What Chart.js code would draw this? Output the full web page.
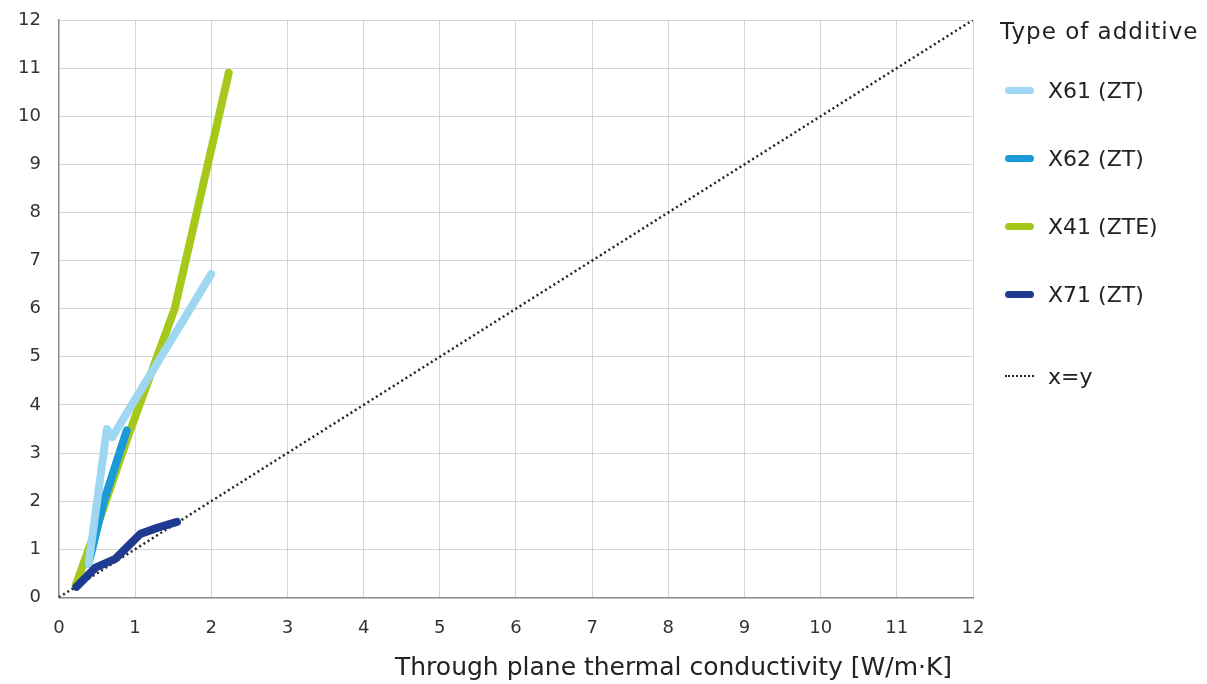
<!DOCTYPE html>
<html>
<head>
<meta charset="utf-8">
<script src="https://cdn.jsdelivr.net/npm/chart.js@4"></script>
<style>
  body { margin: 0; background: #fff; }
  #wrap { position: relative; width: 1207px; height: 684px; }
  #legend { position: absolute; left: 1000px; top: 18px; font-family: 'DejaVu Sans', sans-serif; color: #222; }
  #legend .title { font-size: 23px; letter-spacing: 1px; margin-bottom: 12px; }
  #legend .item { display: flex; align-items: center; height: 68px; font-size: 22px; }
  #legend .item.last { margin-top: 14px; }
  #legend .swatch { width: 29px; height: 7px; border-radius: 4px; margin: 0 14px 0 5px; }
  #legend .dots { width: 29px; border-top: 2px dotted #222; margin: 0 14px 0 5px; }
  #xtitle { position: absolute; left: 395px; top: 652px; font-family: 'DejaVu Sans', sans-serif; font-size: 25px; color: #222; white-space: nowrap; }
</style>
</head>
<body>
<div id="wrap">
  <canvas id="chart" width="1207" height="684"></canvas>
  <div id="legend"></div>
  <div id="xtitle">Through plane thermal conductivity [W/m·K]</div>
</div>
<script>
// series: [x, y] in W/m·K
const x61 = [[0.39, 0.7], [0.63, 3.5], [0.70, 3.33], [2.0, 6.72]];
const x62 = [[0.39, 0.7], [0.59, 2.0], [0.89, 3.47]];
const x41 = [[0.22, 0.25], [0.55, 1.7], [0.92, 3.4], [1.52, 6.0], [2.23, 10.9]];
const x71 = [[0.23, 0.22], [0.48, 0.62], [0.74, 0.8], [1.07, 1.32], [1.3, 1.45], [1.55, 1.57]];
const diag = [[0, 0], [12, 12]];

const seriesNames = ['X61 (ZT)', 'X62 (ZT)', 'X41 (ZTE)', 'X71 (ZT)', 'x=y'];
const seriesColors = ['#9fd7f3', '#1b9ad8', '#a5c81b', '#1f3b91', '#222222'];
const tickValues = [0, 1, 2, 3, 4, 5, 6, 7, 8, 9, 10, 11, 12];

const toPts = arr => arr.map(p => ({ x: p[0], y: p[1] }));

const lineSet = (data, i, order) => ({
  label: seriesNames[i],
  data: toPts(data),
  borderColor: seriesColors[i],
  backgroundColor: seriesColors[i],
  borderWidth: 8,
  borderCapStyle: 'round',
  borderJoinStyle: 'round',
  pointRadius: 0,
  tension: 0,
  order: order
});

const tickFont = { family: 'DejaVu Sans', size: 18 };

new Chart(document.getElementById('chart'), {
  type: 'line',
  data: {
    datasets: [
      lineSet(x61, 0, 2),
      lineSet(x62, 1, 3),
      lineSet(x41, 2, 4),
      lineSet(x71, 3, 1),
      {
        label: seriesNames[4],
        data: toPts(diag),
        borderColor: seriesColors[4],
        borderWidth: 2.5,
        borderDash: [2, 3],
        pointRadius: 0,
        order: 5
      }
    ]
  },
  options: {
    responsive: false,
    animation: false,
    layout: { padding: { left: 0, right: 234, top: 0, bottom: 25 } },
    plugins: { legend: { display: false }, tooltip: { enabled: false } },
    scales: {
      x: {
        type: 'linear',
        min: 0, max: 12,
        afterBuildTicks: axis => { axis.ticks = tickValues.map(v => ({ value: v })); },
        grid: { color: '#d6d6d6', lineWidth: 1, drawTicks: false },
        border: { color: '#8a8a8a', width: 1.5 },
        ticks: { padding: 20, color: '#333', font: tickFont }
      },
      y: {
        type: 'linear',
        min: 0, max: 12,
        afterBuildTicks: axis => { axis.ticks = tickValues.map(v => ({ value: v })); },
        afterFit: axis => { axis.paddingTop = 20; },
        grid: { color: '#d6d6d6', lineWidth: 1, drawTicks: false },
        border: { color: '#8a8a8a', width: 1.5 },
        ticks: { padding: 18, color: '#333', font: tickFont }
      }
    }
  }
});

// legend built from the same names/colours
const legend = document.getElementById('legend');
legend.innerHTML = '<div class="title">Type of additive</div>' +
  seriesNames.map((n, i) => i < 4
    ? `<div class="item"><span class="swatch" style="background:${seriesColors[i]}"></span>${n}</div>`
    : `<div class="item last"><span class="dots"></span>${n}</div>`).join('');
</script>
</body>
</html>
